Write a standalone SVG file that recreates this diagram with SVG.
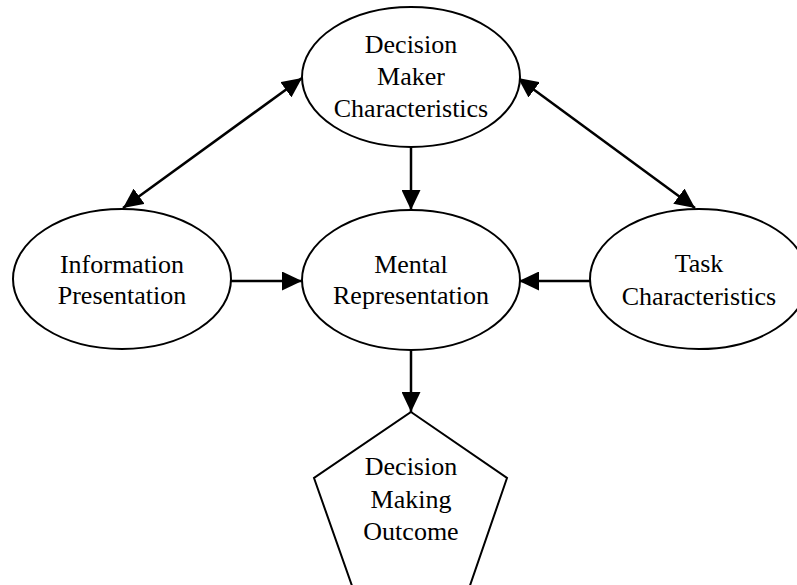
<svg xmlns="http://www.w3.org/2000/svg" width="797" height="585" viewBox="0 0 797 585">
  <style>
    .shape { fill: #ffffff; stroke: #000000; stroke-width: 2; }
    .label { font-family: "Liberation Serif", "Times New Roman", serif; font-size: 26px; fill: #000000; text-anchor: middle; }
    .edge { fill: none; stroke: #000000; stroke-width: 2.5; }
  </style>
  <defs>
    <marker id="arrowhead" viewBox="0 0 20 19" refX="20" refY="9.5" markerWidth="20" markerHeight="19" markerUnits="userSpaceOnUse" orient="auto-start-reverse">
      <path d="M0,0 L20,9.5 L0,19 Z" fill="#000000"/>
    </marker>
  </defs>

  <g id="connectors">
    <line class="edge" x1="123" y1="208" x2="302" y2="78" marker-start="url(#arrowhead)" marker-end="url(#arrowhead)"/>
    <line class="edge" x1="518" y1="78" x2="695" y2="208" marker-start="url(#arrowhead)" marker-end="url(#arrowhead)"/>
    <line class="edge" x1="411" y1="146" x2="411" y2="210" marker-end="url(#arrowhead)"/>
    <line class="edge" x1="231" y1="281" x2="302" y2="281" marker-end="url(#arrowhead)"/>
    <line class="edge" x1="590" y1="281" x2="519" y2="281" marker-end="url(#arrowhead)"/>
    <line class="edge" x1="411" y1="350" x2="411" y2="412" marker-end="url(#arrowhead)"/>
  </g>

  <g id="decision-maker">
    <ellipse class="shape" cx="411" cy="77" rx="109" ry="70"/>
    <text class="label" x="411" y="53">Decision</text>
    <text class="label" x="411" y="85">Maker</text>
    <text class="label" x="411" y="117">Characteristics</text>
  </g>

  <g id="information-presentation">
    <ellipse class="shape" cx="122" cy="279" rx="109" ry="70"/>
    <text class="label" x="122" y="273">Information</text>
    <text class="label" x="122" y="304">Presentation</text>
  </g>

  <g id="mental-representation">
    <ellipse class="shape" cx="411" cy="280" rx="109" ry="70"/>
    <text class="label" x="411" y="273">Mental</text>
    <text class="label" x="411" y="304">Representation</text>
  </g>

  <g id="task-characteristics">
    <ellipse class="shape" cx="699" cy="279" rx="109" ry="70"/>
    <text class="label" x="699" y="272">Task</text>
    <text class="label" x="699" y="305">Characteristics</text>
  </g>

  <g id="decision-outcome">
    <polygon class="shape" points="411,412 507,478 465,600 357,600 314,478"/>
    <text class="label" x="411" y="475">Decision</text>
    <text class="label" x="411" y="508">Making</text>
    <text class="label" x="411" y="540">Outcome</text>
  </g>
</svg>
